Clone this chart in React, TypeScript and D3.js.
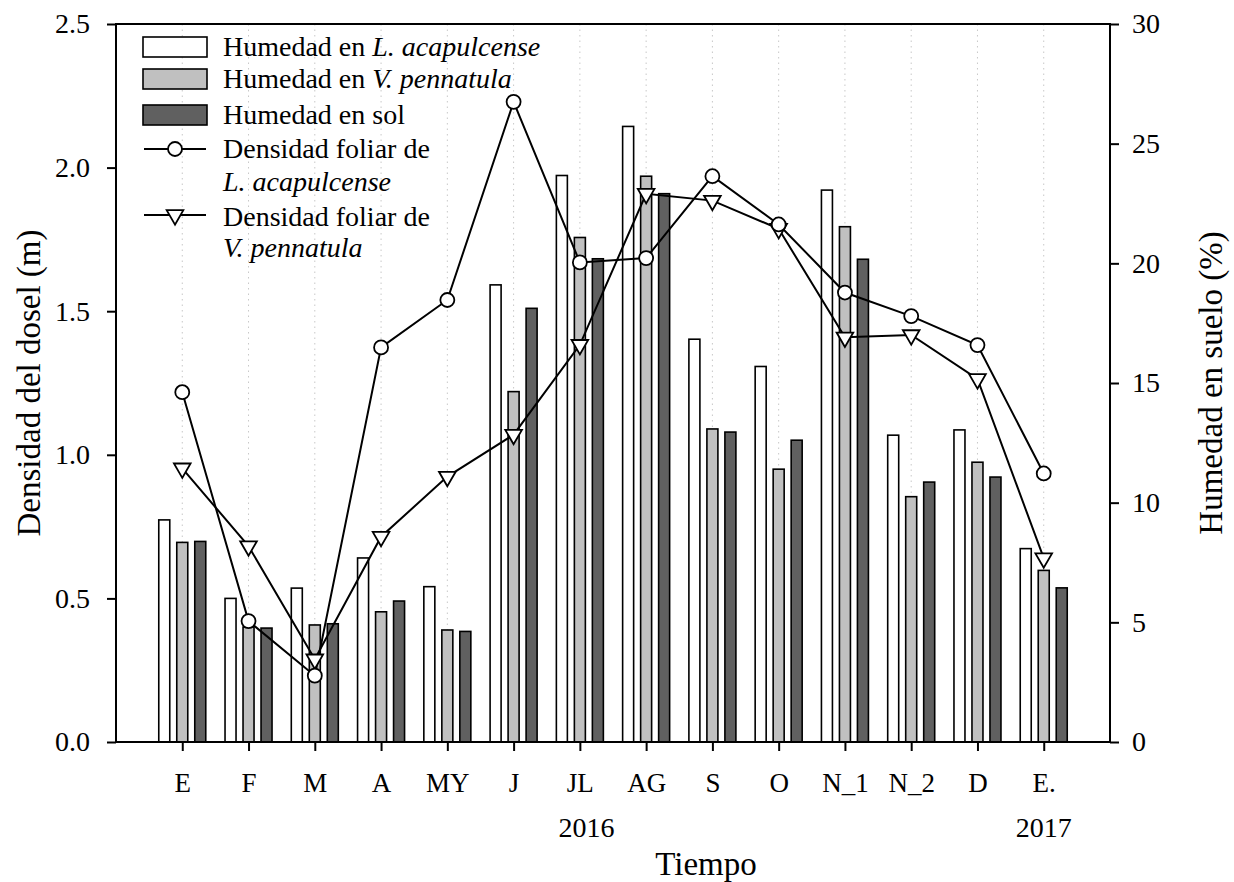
import React, { useEffect, useRef } from "react";
import * as d3 from "d3";

// months on the x axis
const months = ["E", "F", "M", "A", "MY", "J", "JL", "AG", "S", "O", "N_1", "N_2", "D", "E."];

// soil humidity (%) – bars, right axis
const humLaca = [9.28, 6.0, 6.43, 7.69, 6.49, 19.1, 23.67, 25.72, 16.83, 15.69, 23.06, 12.82, 13.04, 8.08];
const humVpen = [8.34, 4.8, 4.89, 5.44, 4.68, 14.64, 21.08, 23.64, 13.08, 11.4, 21.53, 10.25, 11.69, 7.17];
const humSol = [8.38, 4.76, 4.94, 5.89, 4.62, 18.12, 20.19, 22.91, 12.95, 12.61, 20.17, 10.86, 11.07, 6.44];

// canopy density (m) – lines, left axis
const densLaca = [1.218, 0.421, 0.231, 1.374, 1.539, 2.229, 1.67, 1.685, 1.97, 1.802, 1.565, 1.483, 1.382, 0.935];
const densVpen = [0.953, 0.682, 0.288, 0.715, 0.924, 1.07, 1.383, 1.909, 1.885, 1.787, 1.409, 1.417, 1.264, 0.64];

const leftTicks = [0, 0.5, 1.0, 1.5, 2.0, 2.5];
const rightTicks = [0, 5, 10, 15, 20, 25, 30];

const FONT = "'Liberation Serif', 'Times New Roman', serif";

const App = () => {
  const ref = useRef<SVGSVGElement>(null);

  useEffect(() => {
    const svg = d3.select(ref.current);
    svg.selectAll("*").remove();

    const left = 116, right = 1110, top = 24, bottom = 742;

    const x = d3.scaleLinear().domain([-1, months.length]).range([left, right]);
    const yL = d3.scaleLinear().domain([0, 2.5]).range([bottom, top]);
    const yR = d3.scaleLinear().domain([0, 30]).range([bottom, top]);

    // dotted vertical grid
    svg
      .append("g")
      .selectAll("line")
      .data(months)
      .join("line")
      .attr("x1", (_, i) => x(i))
      .attr("x2", (_, i) => x(i))
      .attr("y1", top)
      .attr("y2", bottom)
      .attr("stroke", "#c8c8c8")
      .attr("stroke-width", 1)
      .attr("stroke-dasharray", "1.5,4");

    // bars
    const barW = 11;
    const series = [
      { values: humLaca, fill: "#ffffff", offset: -18 },
      { values: humVpen, fill: "#c0c0c0", offset: 0 },
      { values: humSol, fill: "#606060", offset: 18 },
    ];
    series.forEach((s) => {
      svg
        .append("g")
        .selectAll("rect")
        .data(s.values)
        .join("rect")
        .attr("x", (_, i) => x(i) + s.offset - barW / 2)
        .attr("y", (d) => yR(d))
        .attr("width", barW)
        .attr("height", (d) => bottom - yR(d))
        .attr("fill", s.fill)
        .attr("stroke", "#000")
        .attr("stroke-width", 1.6);
    });

    // lines
    const line = d3
      .line<number>()
      .x((_, i) => x(i))
      .y((d) => yL(d));

    [densLaca, densVpen].forEach((vals) => {
      svg
        .append("path")
        .datum(vals)
        .attr("fill", "none")
        .attr("stroke", "#000")
        .attr("stroke-width", 2)
        .attr("d", line);
    });

    const tri = d3.symbol().type(d3.symbolTriangle).size(120);

    svg
      .append("g")
      .selectAll("path")
      .data(densVpen)
      .join("path")
      .attr("d", tri)
      .attr("transform", (d, i) => `translate(${x(i)},${yL(d)}) rotate(180)`)
      .attr("fill", "#fff")
      .attr("stroke", "#000")
      .attr("stroke-width", 1.8);

    svg
      .append("g")
      .selectAll("circle")
      .data(densLaca)
      .join("circle")
      .attr("cx", (_, i) => x(i))
      .attr("cy", (d) => yL(d))
      .attr("r", 7)
      .attr("fill", "#fff")
      .attr("stroke", "#000")
      .attr("stroke-width", 1.8);

    // frame
    svg
      .append("rect")
      .attr("x", left)
      .attr("y", top)
      .attr("width", right - left)
      .attr("height", bottom - top)
      .attr("fill", "none")
      .attr("stroke", "#000")
      .attr("stroke-width", 2);

    // axes
    const gL = svg
      .append("g")
      .attr("transform", `translate(${left},0)`)
      .call(d3.axisLeft(yL).tickValues(leftTicks).tickFormat(d3.format(".1f")).tickSize(9).tickPadding(17));
    const gR = svg
      .append("g")
      .attr("transform", `translate(${right},0)`)
      .call(d3.axisRight(yR).tickValues(rightTicks).tickSize(9).tickPadding(13));
    const gB = svg
      .append("g")
      .attr("transform", `translate(0,${bottom})`)
      .call(
        d3
          .axisBottom(x)
          .tickValues(d3.range(months.length))
          .tickFormat((d) => months[d as number])
          .tickSize(9)
          .tickPadding(22)
      );

    [gL, gR, gB].forEach((g) => {
      g.attr("font-family", null).attr("font-size", null);
      g.select(".domain").remove();
      g.selectAll(".tick line").attr("stroke", "#000").attr("stroke-width", 2);
      g.selectAll(".tick text").style("font-size", "28px").attr("fill", "#000");
    });
    gB.selectAll(".tick text").style("font-size", "27px");

    // year labels
    svg
      .append("text")
      .attr("x", x(6.1))
      .attr("y", 837)
      .attr("text-anchor", "middle")
      .style("font-size", "28px")
      .text("2016");
    svg
      .append("text")
      .attr("x", x(13))
      .attr("y", 837)
      .attr("text-anchor", "middle")
      .style("font-size", "28px")
      .text("2017");

    // axis titles
    svg
      .append("text")
      .attr("x", 706)
      .attr("y", 875)
      .attr("text-anchor", "middle")
      .style("font-size", "33px")
      .text("Tiempo");
    svg
      .append("text")
      .attr("transform", `translate(40,${(top + bottom) / 2}) rotate(-90)`)
      .attr("text-anchor", "middle")
      .style("font-size", "33px")
      .text("Densidad del dosel (m)");
    svg
      .append("text")
      .attr("transform", `translate(1222,${(top + bottom) / 2}) rotate(-90)`)
      .attr("text-anchor", "middle")
      .style("font-size", "33px")
      .text("Humedad en suelo (%)");

    // legend
    const lg = svg.append("g").style("font-size", "28px");
    const boxes = [
      { fill: "#ffffff", y: 37, base: 56, label: "Humedad en ", it: "L. acapulcense" },
      { fill: "#c0c0c0", y: 69, base: 88, label: "Humedad en ", it: "V. pennatula" },
      { fill: "#606060", y: 105, base: 124, label: "Humedad en sol", it: "" },
    ];
    boxes.forEach((b) => {
      lg.append("rect")
        .attr("x", 143)
        .attr("y", b.y)
        .attr("width", 64)
        .attr("height", 20)
        .attr("fill", b.fill)
        .attr("stroke", "#000")
        .attr("stroke-width", 1.6);
      const t = lg.append("text").attr("x", 223).attr("y", b.base);
      t.append("tspan").text(b.label);
      if (b.it) t.append("tspan").style("font-style", "italic").text(b.it);
    });

    const lines = [
      { y: 149, base: 158, base2: 191, sp: "L. acapulcense", mark: "circle" },
      { y: 215, base: 226, base2: 257, sp: "V. pennatula", mark: "tri" },
    ];
    lines.forEach((l) => {
      lg.append("line")
        .attr("x1", 144)
        .attr("x2", 206)
        .attr("y1", l.y)
        .attr("y2", l.y)
        .attr("stroke", "#000")
        .attr("stroke-width", 2);
      if (l.mark === "circle") {
        lg.append("circle")
          .attr("cx", 175)
          .attr("cy", l.y)
          .attr("r", 7)
          .attr("fill", "#fff")
          .attr("stroke", "#000")
          .attr("stroke-width", 1.8);
      } else {
        lg.append("path")
          .attr("d", tri)
          .attr("transform", `translate(175,${l.y}) rotate(180)`)
          .attr("fill", "#fff")
          .attr("stroke", "#000")
          .attr("stroke-width", 1.8);
      }
      lg.append("text").attr("x", 223).attr("y", l.base).text("Densidad foliar de");
      lg.append("text").attr("x", 223).attr("y", l.base2).style("font-style", "italic").text(l.sp);
    });
  }, []);

  return (
    <div style={{ position: "absolute", left: 0, top: 0 }}>
      <svg
        ref={ref}
        width={1234}
        height={882}
        style={{ display: "block", background: "#fff", fontFamily: FONT }}
      />
    </div>
  );
};

export default App;
